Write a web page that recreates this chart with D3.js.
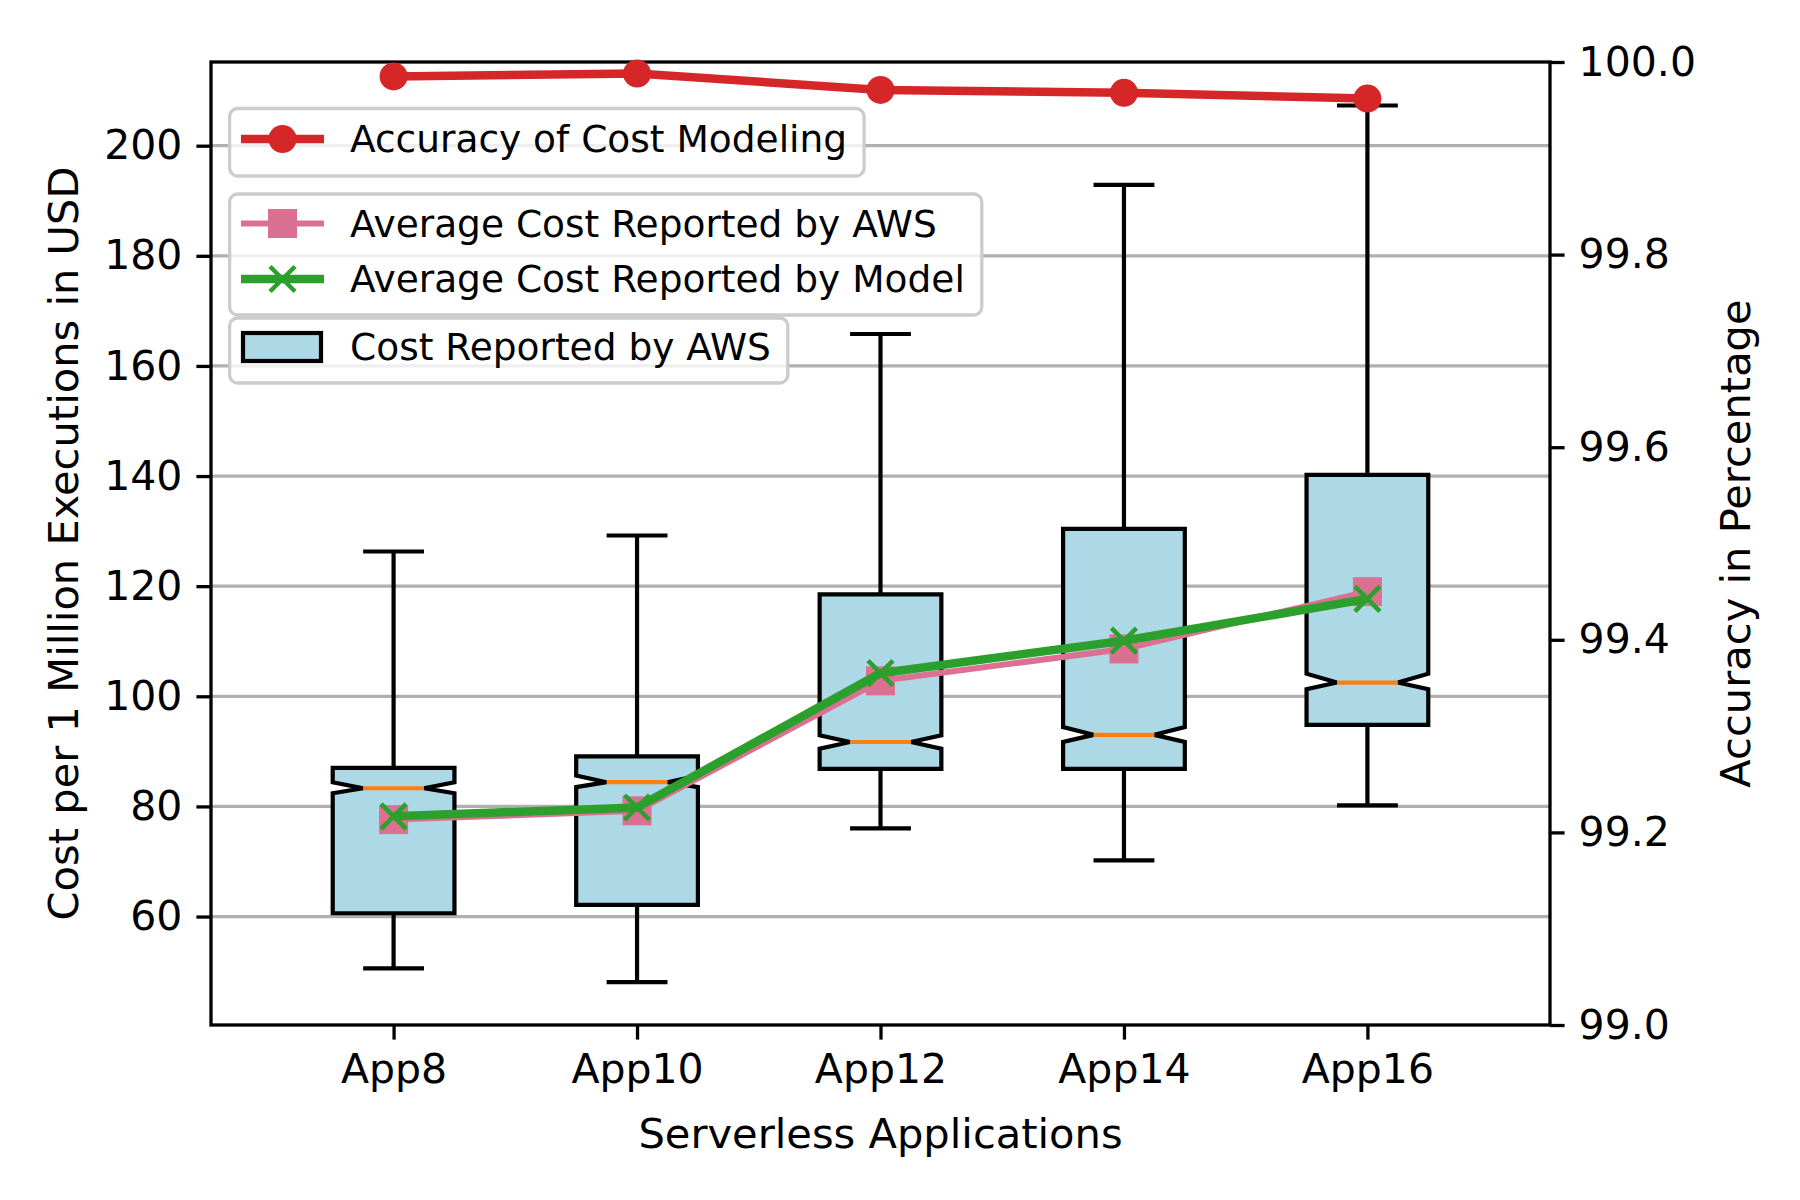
<!DOCTYPE html>
<html>
<head>
<meta charset="utf-8">
<script src="https://cdn.jsdelivr.net/npm/d3@7"></script>
<style>
  body { margin: 0; background: #fff; }
  text { font-family: "DejaVu Sans", sans-serif; fill: #000; }
</style>
</head>
<body>
<div id="chart"></div>
<script>
// chart values
const apps = ['App8', 'App10', 'App12', 'App14', 'App16'];
const whiskerLow = [50.6, 48.1, 76.0, 70.2, 80.2];
const q1 = [60.6, 62.1, 86.8, 86.8, 94.8];
const notchLow = [82.4, 83.5, 90.5, 91.7, 101.3];
const median = [83.3, 84.4, 91.7, 93.0, 102.5];
const notchHigh = [84.4, 85.6, 92.9, 94.4, 104.1];
const q3 = [87.0, 89.1, 118.5, 130.4, 140.2];
const whiskerHigh = [126.3, 129.2, 165.8, 192.9, 207.3];
const meanAws = [77.6, 79.2, 102.8, 108.6, 119.0];
const meanModel = [78.2, 79.8, 104.2, 110.1, 117.7];
const accuracy = [99.985, 99.988, 99.971, 99.968, 99.962];
const costTicks = [60, 80, 100, 120, 140, 160, 180, 200];
const accTicks = [99.0, 99.2, 99.4, 99.6, 99.8, 100.0];

let w = 1800;
let h = 1200;
let pLeft = 211, pRight = 1550, pTop = 62, pBottom = 1025;
let fs = 41;
let legendFs = 37.5;

let svg = d3.select('#chart').
append('svg').
attr('width', w).
attr('height', h);

let x = d3.scaleLinear().domain([0.25, 5.75]).range([pLeft, pRight]);
let y = d3.scaleLinear().domain([40.3, 215.2]).range([pBottom, pTop]);
let y2 = d3.scaleLinear().domain([99, 100]).range([pBottom, pTop]);

let boxes = apps.map((a, i) => ({
  pos: i + 1, lo: whiskerLow[i], q1: q1[i], cilo: notchLow[i], med: median[i],
  cihi: notchHigh[i], q3: q3[i], hi: whiskerHigh[i]
}));

// grid
svg.append('g').
selectAll('line').
data(costTicks).
join('line').
attr('x1', pLeft).attr('x2', pRight).
attr('y1', d => y(d)).attr('y2', d => y(d)).
attr('stroke', '#b0b0b0').
attr('stroke-width', 3.3);

// boxes
let bw = 0.5;
let box = svg.append('g').selectAll('g').data(boxes).join('g');

box.append('line').
attr('x1', d => x(d.pos)).attr('x2', d => x(d.pos)).
attr('y1', d => y(d.lo)).attr('y2', d => y(d.q1)).
attr('stroke', '#000').attr('stroke-width', 4.2);
box.append('line').
attr('x1', d => x(d.pos)).attr('x2', d => x(d.pos)).
attr('y1', d => y(d.q3)).attr('y2', d => y(d.hi)).
attr('stroke', '#000').attr('stroke-width', 4.2);
box.append('line').
attr('x1', d => x(d.pos - bw / 4)).attr('x2', d => x(d.pos + bw / 4)).
attr('y1', d => y(d.lo)).attr('y2', d => y(d.lo)).
attr('stroke', '#000').attr('stroke-width', 4.2);
box.append('line').
attr('x1', d => x(d.pos - bw / 4)).attr('x2', d => x(d.pos + bw / 4)).
attr('y1', d => y(d.hi)).attr('y2', d => y(d.hi)).
attr('stroke', '#000').attr('stroke-width', 4.2);

let notchPath = d3.line().x(p => x(p[0])).y(p => y(p[1]));
box.append('path').
attr('d', d => {
  let bl = d.pos - bw / 2, br = d.pos + bw / 2;
  let cl = d.pos - bw / 4, cr = d.pos + bw / 4;
  return notchPath([[bl, d.q1], [br, d.q1], [br, d.cilo], [cr, d.med], [br, d.cihi],
  [br, d.q3], [bl, d.q3], [bl, d.cihi], [cl, d.med], [bl, d.cilo], [bl, d.q1]]) + 'Z';
}).
attr('fill', '#add8e6').
attr('stroke', '#000').
attr('stroke-width', 4.2).
attr('stroke-linejoin', 'miter');

box.append('line').
attr('x1', d => x(d.pos - bw / 4)).attr('x2', d => x(d.pos + bw / 4)).
attr('y1', d => y(d.med)).attr('y2', d => y(d.med)).
attr('stroke', '#ff7f0e').attr('stroke-width', 4.2);

// mean lines
let idx = d3.range(apps.length);
svg.append('path').
attr('d', d3.line().x(i => x(i + 1)).y(i => y(meanAws[i]))(idx)).
attr('fill', 'none').attr('stroke', '#db7093').attr('stroke-width', 6);
svg.append('g').selectAll('rect').data(idx).join('rect').
attr('x', i => x(i + 1) - 14.5).attr('y', i => y(meanAws[i]) - 14.5).
attr('width', 29).attr('height', 29).
attr('fill', '#db7093');

svg.append('path').
attr('d', d3.line().x(i => x(i + 1)).y(i => y(meanModel[i]))(idx)).
attr('fill', 'none').attr('stroke', '#2ca02c').attr('stroke-width', 8.5);
svg.append('g').selectAll('path').data(idx).join('path').
attr('d', i => {
  let cx = x(i + 1), cy = y(meanModel[i]), s = 12.5;
  return `M${cx - s},${cy - s}L${cx + s},${cy + s}M${cx - s},${cy + s}L${cx + s},${cy - s}`;
}).
attr('stroke', '#2ca02c').attr('stroke-width', 4.5);

// frame
svg.append('rect').
attr('x', pLeft).attr('y', pTop).
attr('width', pRight - pLeft).attr('height', pBottom - pTop).
attr('fill', 'none').attr('stroke', '#000').attr('stroke-width', 3.3);

// accuracy line (twin axis)
svg.append('path').
attr('d', d3.line().x(i => x(i + 1)).y(i => y2(accuracy[i]))(idx)).
attr('fill', 'none').attr('stroke', '#d62728').attr('stroke-width', 8.5);
svg.append('g').selectAll('circle').data(idx).join('circle').
attr('cx', i => x(i + 1)).attr('cy', i => y2(accuracy[i])).
attr('r', 14).attr('fill', '#d62728');

// axes
function styleAxis(g) {
  g.select('.domain').remove();
  g.selectAll('.tick line').attr('stroke', '#000').attr('stroke-width', 3.3);
  g.selectAll('.tick text').style('font-size', fs + 'px').style('font-family', '"DejaVu Sans", sans-serif');
}

svg.append('g').
attr('transform', `translate(${pLeft},0)`).
call(d3.axisLeft(y).tickValues(costTicks).tickSize(14.6).tickPadding(14)).
call(styleAxis);

svg.append('g').
attr('transform', `translate(${pRight},0)`).
call(d3.axisRight(y2).tickValues(accTicks).tickFormat(d3.format('.1f')).tickSize(14.6).tickPadding(14)).
call(styleAxis);

svg.append('g').
attr('transform', `translate(0,${pBottom})`).
call(d3.axisBottom(x).tickValues([1, 2, 3, 4, 5]).tickFormat(d => apps[d - 1]).tickSize(14.6).tickPadding(14)).
call(styleAxis);

// axis titles
svg.append('text').
attr('transform', `translate(63,${(pTop + pBottom) / 2}) rotate(-90)`).
attr('text-anchor', 'middle').attr('dominant-baseline', 'central').
style('font-size', '41.6px').
text('Cost per 1 Million Executions in USD');

svg.append('text').
attr('transform', `translate(1735,${(pTop + pBottom) / 2}) rotate(-90)`).
attr('text-anchor', 'middle').attr('dominant-baseline', 'central').
style('font-size', '41.6px').
text('Accuracy in Percentage');

svg.append('text').
attr('x', (pLeft + pRight) / 2).attr('y', 1133).
attr('text-anchor', 'middle').attr('dominant-baseline', 'central').
style('font-size', '41.6px').
text('Serverless Applications');

// legends
function legendBox(y0, y1, entries) {
  let g = svg.append('g');
  let frame = g.append('rect').
  attr('x', 229.6).attr('y', y0).attr('height', y1 - y0).
  attr('rx', 8).attr('ry', 8).
  attr('fill', 'rgba(255,255,255,0.8)').
  attr('stroke', '#cccccc').attr('stroke-width', 3.3);
  let maxW = 0;
  entries.forEach(e => {
    let hx0 = 241, hx1 = 324, hc = (hx0 + hx1) / 2;
    if (e.type === 'line') {
      g.append('line').attr('x1', hx0).attr('x2', hx1).attr('y1', e.y).attr('y2', e.y).
      attr('stroke', e.color).attr('stroke-width', e.lw);
      if (e.marker === 'circle') g.append('circle').attr('cx', hc).attr('cy', e.y).attr('r', 14).attr('fill', e.color);
      if (e.marker === 'square') g.append('rect').attr('x', hc - 14.5).attr('y', e.y - 14.5).attr('width', 29).attr('height', 29).attr('fill', e.color);
      if (e.marker === 'x') g.append('path').
      attr('d', `M${hc - 12.5},${e.y - 12.5}L${hc + 12.5},${e.y + 12.5}M${hc - 12.5},${e.y + 12.5}L${hc + 12.5},${e.y - 12.5}`).
      attr('stroke', e.color).attr('stroke-width', 4.5);
    } else {
      g.append('rect').attr('x', 243).attr('y', e.y - 14).attr('width', 78).attr('height', 28).
      attr('fill', '#add8e6').attr('stroke', '#000').attr('stroke-width', 4.2);
    }
    let t = g.append('text').attr('x', 350).attr('y', e.y).
    attr('dominant-baseline', 'central').style('font-size', legendFs + 'px').text(e.label);
    maxW = Math.max(maxW, t.node().getComputedTextLength());
  });
  frame.attr('width', 350 + maxW + 17 - 229.6);
}

legendBox(108.5, 176, [{ type: 'line', y: 139, color: '#d62728', lw: 8.5, marker: 'circle', label: 'Accuracy of Cost Modeling' }]);
legendBox(194, 315, [
{ type: 'line', y: 223.5, color: '#db7093', lw: 6, marker: 'square', label: 'Average Cost Reported by AWS' },
{ type: 'line', y: 279, color: '#2ca02c', lw: 8.5, marker: 'x', label: 'Average Cost Reported by Model' }]);
legendBox(318, 383, [{ type: 'patch', y: 347, label: 'Cost Reported by AWS' }]);
</script>
</body>
</html>
